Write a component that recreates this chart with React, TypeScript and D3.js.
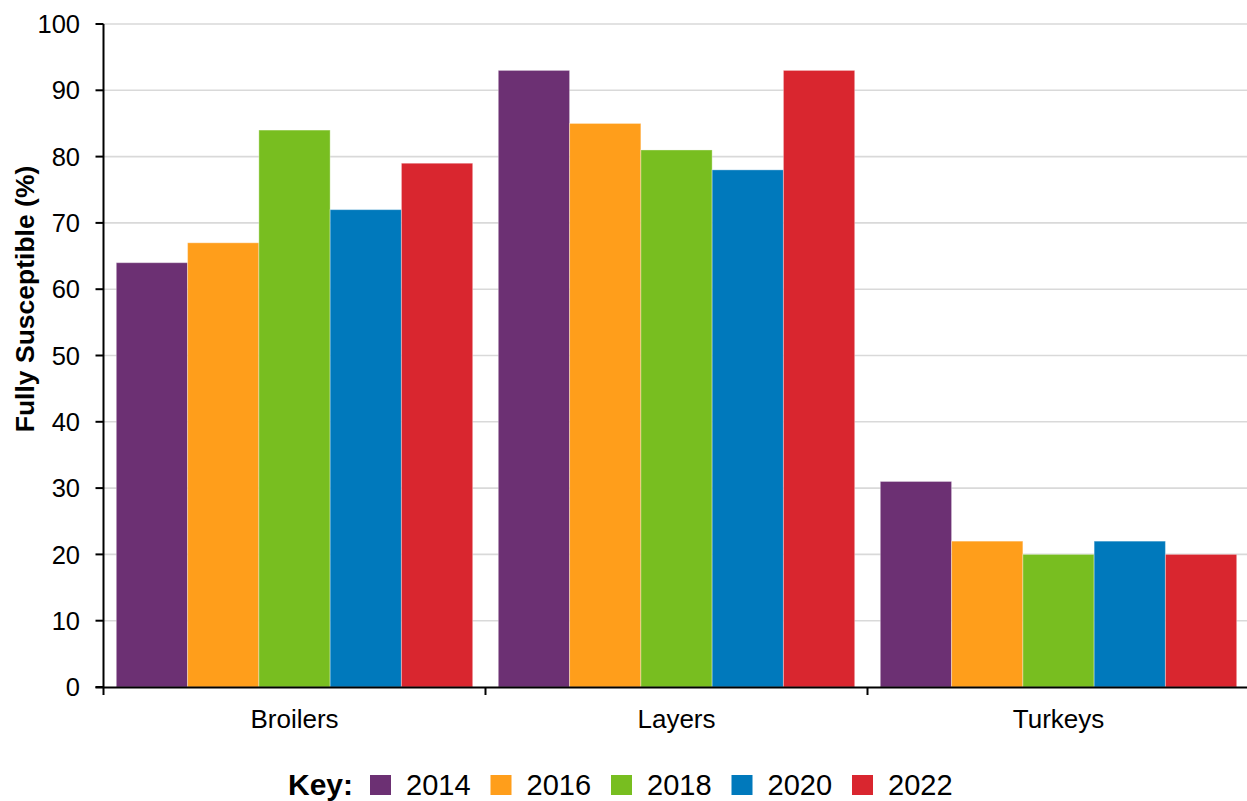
import React from "react";
import * as d3 from "d3";

const categories = ["Broilers", "Layers", "Turkeys"];
const years = ["2014", "2016", "2018", "2020", "2022"];
const values2014 = [64, 93, 31];
const values2016 = [67, 85, 22];
const values2018 = [84, 81, 20];
const values2020 = [72, 78, 22];
const values2022 = [79, 93, 20];
const yTicks = [0, 10, 20, 30, 40, 50, 60, 70, 80, 90, 100];
const colors = ["#6C3073", "#FF9E1B", "#78BE20", "#0079BC", "#D9262F"];
const seriesValues = [values2014, values2016, values2018, values2020, values2022];

const W = 1247;
const H = 801;
const FONT = "'Liberation Sans', Arial, Helvetica, sans-serif";

export default function App() {
  const plotLeft = 103.5;
  const plotRight = 1249.5;
  const yTop = 24;
  const yBottom = 687;

  const y = d3.scaleLinear().domain([0, 100]).range([yBottom, yTop]);
  const x0 = d3.scaleBand<string>().domain(categories).range([plotLeft, plotRight]).paddingInner(0).paddingOuter(0);
  const bw = x0.bandwidth();
  const gap = 12.8;
  const x1 = d3.scaleBand<string>().domain(years).range([gap, bw - gap]).padding(0);

  const legendX0 = 370;
  const legendStep = 120.5;

  return (
    <svg width={W} height={H} viewBox={`0 0 ${W} ${H}`} style={{ position: "absolute", left: 0, top: 0, background: "#fff" }} fontFamily={FONT}>
      <rect x={0} y={0} width={W} height={H} fill="#fff" />
      {/* gridlines */}
      {yTicks.filter((t) => t > 0).map((t) => (
        <line key={"g" + t} x1={plotLeft} x2={W} y1={y(t)} y2={y(t)} stroke="#D9D9D9" strokeWidth={1.6} />
      ))}
      {/* bars */}
      {categories.map((c, ci) => (
        <g key={c} transform={`translate(${x0(c)},0)`}>
          {years.map((yr, si) => {
            const v = seriesValues[si][ci];
            return (
              <rect
                key={yr}
                x={x1(yr)}
                y={y(v)}
                width={x1.bandwidth()}
                height={y(0) - y(v)}
                fill={colors[si]}
                stroke="rgba(255,255,255,0.35)"
                strokeWidth={1}
              />
            );
          })}
        </g>
      ))}
      {/* y axis */}
      <line x1={plotLeft} x2={plotLeft} y1={yTop} y2={yBottom + 8} stroke="#000" strokeWidth={2} />
      {yTicks.map((t) => (
        <g key={"t" + t}>
          <line x1={plotLeft - 8} x2={plotLeft} y1={y(t)} y2={y(t)} stroke="#000" strokeWidth={2} />
          <text x={80} y={y(t)} dy="0.36em" textAnchor="end" fontSize={25.5} fill="#000">
            {t}
          </text>
        </g>
      ))}
      {/* x axis */}
      <line x1={plotLeft - 8} x2={W} y1={yBottom + 0.5} y2={yBottom + 0.5} stroke="#000" strokeWidth={2} />
      {categories.slice(1).map((c) => (
        <line key={"xt" + c} x1={x0(c)} x2={x0(c)} y1={yBottom} y2={yBottom + 8} stroke="#000" strokeWidth={2} />
      ))}
      {categories.map((c) => (
        <text key={"xl" + c} x={(x0(c) as number) + bw / 2} y={728} textAnchor="middle" fontSize={26} fill="#000">
          {c}
        </text>
      ))}
      {/* y title */}
      <text transform={`translate(34,299) rotate(-90)`} textAnchor="middle" fontSize={26.5} fontWeight="bold" fill="#000">
        Fully Susceptible (%)
      </text>
      {/* legend */}
      <text x={288} y={795} fontSize={30} fontWeight="bold" fill="#000">
        Key:
      </text>
      {years.map((yr, i) => (
        <g key={"lg" + yr}>
          <rect x={legendX0 + i * legendStep} y={775} width={21} height={20} fill={colors[i]} />
          <text x={legendX0 + i * legendStep + 36} y={795} fontSize={29} fill="#000">
            {yr}
          </text>
        </g>
      ))}
    </svg>
  );
}
